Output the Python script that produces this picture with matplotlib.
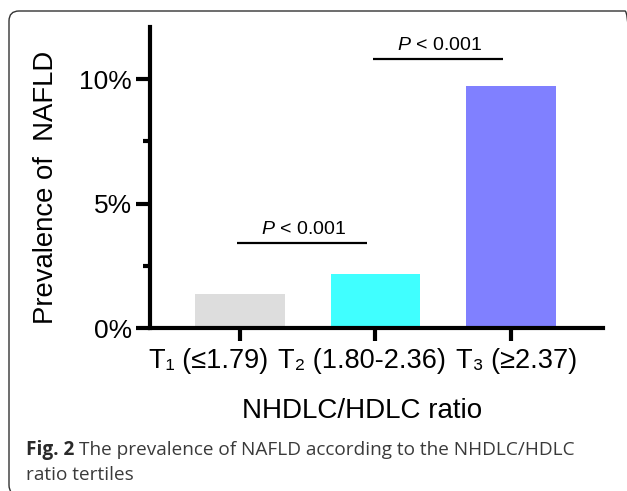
import matplotlib
matplotlib.use("Agg")
import matplotlib.pyplot as plt
from matplotlib.patches import FancyBboxPatch
from matplotlib.ticker import FixedLocator
from matplotlib.transforms import IdentityTransform, ScaledTranslation

plt.rcParams['font.family'] = ['Liberation Sans', 'DejaVu Sans']
plt.rcParams['mathtext.fontset'] = 'custom'
plt.rcParams['mathtext.rm'] = 'Liberation Sans'
plt.rcParams['mathtext.it'] = 'Liberation Sans:italic'

# ---- data ----
categories = ["T\u2081 (\u22641.79)", "T\u2082 (1.80-2.36)", "T\u2083 (\u22652.37)"]
prevalence = [1.37, 2.18, 9.72]          # percent
bar_colors = ["#DDDDDD", "#40FFFF", "#8080FF"]
ytick_values = [0, 5, 10]
ytick_labels = ["0%", "5%", "10%"]
comparisons = [(0, 1), (1, 2)]
comparison_labels = ["$P$ < 0.001", "$P$ < 0.001"]
xlabel = "NHDLC/HDLC ratio"
ylabel = "Prevalence of  NAFLD"
caption_bold = "Fig. 2"
caption_rest = "The prevalence of NAFLD according to the NHDLC/HDLC"
caption_line2 = "ratio tertiles"

W, H = 627, 491
DPI = 100
fig = plt.figure(figsize=(W / DPI, H / DPI), dpi=DPI)

# rounded frame in pixel units (right and bottom sides run off the image)
left_px, top_px, right_px, bottom_px = 9, 11, 635, 495
frame = FancyBboxPatch((left_px, H - bottom_px), right_px - left_px, bottom_px - top_px,
                       boxstyle="round,pad=0,rounding_size=10",
                       transform=IdentityTransform(), fill=False,
                       edgecolor="#333333", linewidth=1.0, clip_on=False)
fig.patches.append(frame)

ax = fig.add_axes([150 / W, 1 - 328 / H, (603 - 150) / W, (328 - 27) / H])
x = list(range(len(categories)))
ax.bar(x, prevalence, width=0.66, color=bar_colors, edgecolor="none", zorder=1)

ax.set_xlim(-0.664, 2.68)
ax.set_ylim(0, 12.1)
for s in ["top", "right"]:
    ax.spines[s].set_visible(False)
for s in ["left", "bottom"]:
    ax.spines[s].set_linewidth(3.0)
    ax.spines[s].set_zorder(3)

ax.set_yticks(ytick_values)
ax.set_yticklabels(ytick_labels)
ax.yaxis.set_minor_locator(FixedLocator([2.5, 7.5]))
ax.set_xticks(x)
ax.set_xticklabels(categories)
ax.tick_params(axis="y", which="major", length=10, width=3, labelsize=19, pad=3)
ax.tick_params(axis="y", which="minor", length=5, width=3)
ax.tick_params(axis="x", which="major", length=9.5, width=3, labelsize=19.5, pad=5)

# the category labels in the original are spread a little wider than the ticks
label_shift_px = [-31, -13, 6]
for lab, dx in zip(ax.get_xticklabels(), label_shift_px):
    lab.set_transform(lab.get_transform() + ScaledTranslation(dx / DPI, 0, fig.dpi_scale_trans))

ax.set_xlabel(xlabel, fontsize=20, labelpad=17)
ax.xaxis.label.set_transform(ax.xaxis.label.get_transform()
                             + ScaledTranslation(-14 / DPI, 0, fig.dpi_scale_trans))
fig.text(46 / W, 1 - 187 / H, ylabel, rotation=90, ha="center", va="center", fontsize=19.8)

# significance annotations
line_levels = [3.43, 10.8]
for (a, b), lab, yl in zip(comparisons, comparison_labels, line_levels):
    ax.plot([a - 0.02, b - 0.06], [yl, yl], color="black", lw=1.6, solid_capstyle="butt")
    ax.text((a + b) / 2 - 0.03, yl + 0.2, lab, ha="center", va="bottom", fontsize=14)

# caption
cap_color = "#3a3a3a"
cap_size = 13.7
t1 = fig.text(26 / W, 1 - 455 / H, caption_bold, fontsize=cap_size, fontweight="bold",
              family="Open Sans", color="#2a2a2a", va="baseline", ha="left")
fig.canvas.draw()
bb = t1.get_window_extent()
fig.text((bb.x1 + 5) / W, 1 - 455 / H, caption_rest, fontsize=cap_size, family="Open Sans",
         color=cap_color, va="baseline", ha="left")
fig.text(26 / W, 1 - 480 / H, caption_line2, fontsize=cap_size, family="Open Sans",
         color=cap_color, va="baseline", ha="left")

fig.savefig("out.png", dpi=DPI)
